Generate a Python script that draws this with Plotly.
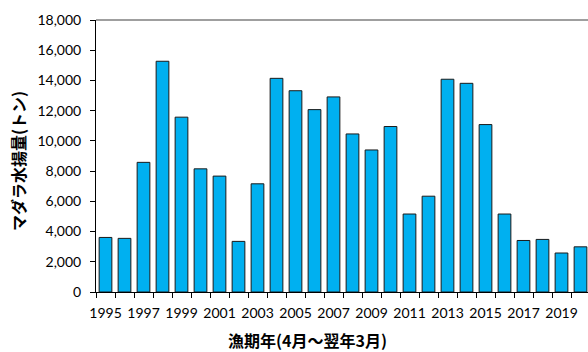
import plotly.graph_objects as go

years = list(range(1995, 2021))
catch = [3610, 3550, 8580, 15270, 11570, 8150, 7670, 3350, 7160, 14140,
         13320, 12070, 12910, 10460, 9400, 10950, 5160, 6340, 14080, 13810,
         11080, 5160, 3410, 3480, 2580, 2990]
year_labels = [str(y) for y in years if y % 2 == 1]
year_label_vals = [y for y in years if y % 2 == 1]
y_ticks = list(range(0, 18001, 2000))

boundaries = [y - 0.5 for y in years] + [years[-1] + 0.5]

fig = go.Figure()
fig.add_trace(go.Bar(
    x=years, y=catch,
    marker=dict(color="#00B0F0", line=dict(color="#1a1a1a", width=1)),
    width=0.67,
))

fig.update_layout(
    width=588, height=352,
    margin=dict(l=96, r=0, t=20, b=60),
    plot_bgcolor="white", paper_bgcolor="white",
    showlegend=False,
    font=dict(family="Lato, 'Noto Sans CJK JP', sans-serif", size=14, color="#000"),
    xaxis=dict(
        range=[years[0] - 0.5, years[0] - 0.5 + 492 / 19],
        tickvals=year_label_vals, ticktext=year_labels,
        ticks="", showgrid=False, zeroline=False,
        showline=True, linecolor="#000", linewidth=1,
        tickfont=dict(size=14, family="Lato"),
        ticklabelstandoff=8,
        minor=dict(tickvals=boundaries, ticks="outside", ticklen=5,
                   tickcolor="#000", showgrid=False),
    ),
    yaxis=dict(
        range=[0, 18000], tickvals=y_ticks, tickformat=",",
        ticks="outside", ticklen=5, tickcolor="#000",
        showline=True, linecolor="#000", linewidth=1,
        showgrid=False, zeroline=False,
        tickfont=dict(size=14, family="Lato"),
        ticklabelstandoff=6,
    ),
    shapes=[dict(type="line", xref="paper", yref="y domain", x0=0, x1=1, y0=1, y1=1,
                 line=dict(color="#7f7f7f", width=1.5))],
    annotations=[
        dict(text="<b>マダラ水揚量(トン)</b>", xref="paper", yref="paper",
             x=(18 - 96) / 492, y=(292 - 161) / 272, textangle=-90,
             showarrow=False, xanchor="center", yanchor="middle",
             font=dict(family="Noto Sans CJK JP", size=16, color="#000")),
        dict(text="<b>漁期年(4月～翌年3月)</b>", xref="paper", yref="paper",
             x=(307 - 96) / 492, y=-(340 - 292) / 272,
             showarrow=False, xanchor="center", yanchor="middle",
             font=dict(family="Noto Sans CJK JP", size=16, color="#000")),
    ],
)

fig.write_html("out.html")
